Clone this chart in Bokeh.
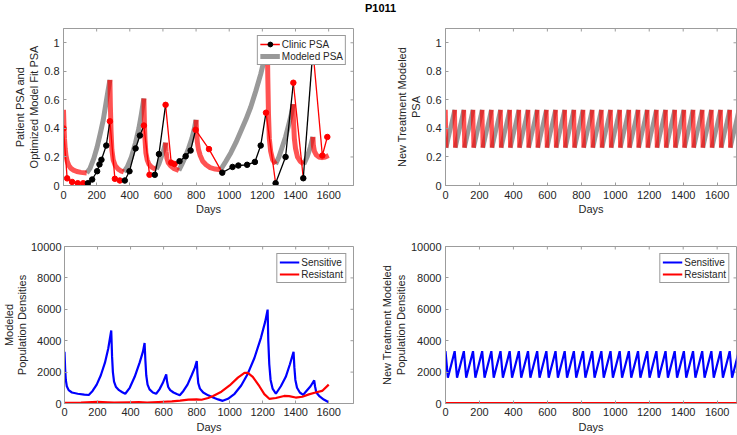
from bokeh.plotting import figure
from bokeh.models import Range1d, FixedTicker, Legend, LegendItem, Div
from bokeh.layouts import row, column
from bokeh.embed import file_html
from bokeh.resources import INLINE

# ---------------- data ----------------
TITLE = "P1011"

# Clinic PSA (top-left); 1 = on treatment (red), 0 = off treatment (black)
clinic_day = [0, 22, 52, 86, 119, 147, 173, 203, 217, 229, 258, 280, 310, 340, 370, 398, 435, 461,
              485, 519, 551, 576, 616, 650, 670, 700, 737, 767, 797, 878, 958, 1020, 1055, 1108,
              1155, 1190, 1222, 1280, 1340, 1387, 1447, 1505, 1562, 1592]
clinic_psa = [0.40, 0.05, 0.025, 0.016, 0.016, 0.016, 0.042, 0.10, 0.148, 0.18, 0.28, 0.45, 0.047,
              0.035, 0.035, 0.10, 0.26, 0.35, 0.42, 0.075, 0.075, 0.22, 0.565, 0.16, 0.15, 0.17,
              0.205, 0.245, 0.39, 0.255, 0.09, 0.13, 0.14, 0.145, 0.165, 0.28, 0.51, 0.016, 0.20,
              0.72, 0.051, 0.95, 0.21, 0.34]
clinic_on = [1, 1, 1, 1, 1, 0, 0, 0, 0, 0, 0, 1, 1, 1, 0, 0, 0, 0, 1, 1, 0, 0, 1, 1, 1, 0, 0, 0,
             1, 1, 0, 0, 0, 0, 0, 0, 1, 0, 0, 1, 0, 1, 1, 1]

# Modeled PSA fit (top-left)
model_day = [0, 3, 6, 10, 15, 22, 32, 45, 60, 80, 105, 140,
             160, 183, 203, 223, 240, 254, 268, 280,
             283, 287, 292, 300, 312, 330, 345, 364,
             385, 410, 435, 455, 470, 485,
             488, 492, 497, 505, 515, 530, 545, 560,
             575, 590, 605, 616,
             619, 624, 632, 645, 665, 696,
             715, 735, 755, 775, 790, 800,
             803, 808, 815, 825, 840, 860, 885, 915, 948,
             980, 1010, 1040, 1070, 1100, 1130, 1160, 1190, 1215, 1230,
             1233, 1237, 1242, 1250, 1262, 1280,
             1300, 1320, 1340, 1360, 1375, 1385,
             1388, 1393, 1400, 1412, 1428, 1450,
             1470, 1490, 1505,
             1508, 1514, 1525, 1540, 1560, 1580, 1600]
model_psa = [0.53, 0.42, 0.33, 0.26, 0.21, 0.17, 0.14, 0.12, 0.108, 0.098, 0.092, 0.088,
             0.12, 0.19, 0.27, 0.37, 0.46, 0.56, 0.66, 0.74,
             0.55, 0.38, 0.25, 0.18, 0.14, 0.115, 0.103, 0.095,
             0.13, 0.2, 0.3, 0.4, 0.5, 0.61,
             0.45, 0.32, 0.23, 0.18, 0.15, 0.13, 0.12, 0.115,
             0.15, 0.2, 0.25, 0.30,
             0.24, 0.19, 0.16, 0.14, 0.12, 0.105,
             0.15, 0.2, 0.26, 0.33, 0.4, 0.46,
             0.37, 0.3, 0.25, 0.21, 0.17, 0.145, 0.125, 0.115, 0.11,
             0.17, 0.23, 0.30, 0.38, 0.46, 0.55, 0.66, 0.78, 0.9, 1.0,
             0.75, 0.5, 0.33, 0.24, 0.18, 0.15,
             0.2, 0.27, 0.34, 0.43, 0.5, 0.57,
             0.45, 0.33, 0.26, 0.2, 0.17, 0.15,
             0.2, 0.27, 0.34,
             0.28, 0.24, 0.215, 0.2, 0.195, 0.2, 0.21]
treat_start = [0, 280, 485, 616, 800, 1230, 1385, 1505]
treat_end = [140, 364, 560, 696, 948, 1280, 1450, 1600]

# Modeled population densities (bottom-left)
sens_day = [0, 4, 8, 14, 25, 45, 80, 120, 147, 170, 195, 220, 245, 265, 283,
            288, 293, 300, 312, 330, 350, 368, 395, 425, 455, 475, 485,
            490, 495, 503, 515, 535, 555, 575, 595, 616,
            621, 628, 640, 660, 680, 698, 720, 745, 770, 790, 801,
            805, 810, 820, 840, 870, 900, 930, 958, 990, 1030, 1070, 1110, 1150, 1190, 1215, 1230,
            1234, 1240, 1248, 1260, 1280, 1310, 1340, 1365, 1387,
            1392, 1398, 1408, 1425, 1445, 1465, 1490, 1512,
            1517, 1525, 1545, 1570, 1600]
sens_val = [3300, 2200, 1500, 1100, 850, 700, 620, 560, 540, 800, 1200, 1800, 2600, 3500, 4650,
            3000, 2000, 1400, 1050, 850, 720, 620, 1000, 1700, 2600, 3300, 3850,
            2700, 1800, 1200, 900, 700, 620, 900, 1300, 1850,
            1400, 1050, 850, 700, 600, 530, 800, 1200, 1800, 2300, 2700,
            1900, 1300, 950, 700, 520, 380, 260, 170, 300, 620, 1150, 1900, 2900, 4200, 5200, 5980,
            4000, 2500, 1500, 950, 620, 1100, 1700, 2500, 3300,
            2300, 1500, 1000, 700, 550, 800, 1100, 1470,
            1100, 700, 450, 250, 80]
resist_day = [0, 100, 200, 260, 300, 400, 450, 500, 600, 650, 700, 750, 800, 830, 870, 900, 950,
              1000, 1050, 1090, 1110, 1140, 1180, 1210, 1240, 1280, 1330, 1360, 1400, 1440, 1480,
              1520, 1560, 1600]
resist_val = [40, 60, 100, 70, 50, 80, 90, 60, 110, 130, 180, 250, 260, 240, 350, 480, 750,
              1150, 1650, 1950, 1950, 1700, 1100, 600, 300, 350, 480, 470, 380, 430, 580,
              700, 800, 1200]

# New treatment (right column): cycle peaks / ends of the fast drop
new_peak_days = [0, 54, 108, 162, 216, 270, 324, 378, 432, 486, 540, 594, 648, 702, 756, 810, 864,
                 918, 972, 1026, 1080, 1134, 1188, 1242, 1296, 1350, 1404, 1458, 1512, 1566, 1620,
                 1674, 1728, 1782]
new_psa_drop_end = [4, 58, 112, 166, 220, 274, 328, 382, 436, 490, 544, 598, 652, 706, 760, 814,
                    868, 922, 976, 1030, 1084, 1138, 1192, 1246, 1300, 1354, 1408, 1462, 1516, 1570,
                    1624, 1678, 1732, 1786]
new_sens_trough_days = [14, 68, 122, 176, 230, 284, 338, 392, 446, 500, 554, 608, 662, 716, 770,
                        824, 878, 932, 986, 1040, 1094, 1148, 1202, 1256, 1310, 1364, 1418, 1472,
                        1526, 1580, 1634, 1688, 1742, 1796]
NEW_PSA_HIGH = 0.53
NEW_PSA_LOW = 0.265
NEW_SENS_HIGH = 3330
NEW_SENS_LOW = 1640
new_resist_day = [0, 1800]
new_resist_val = [25, 25]

x_ticks = [0, 200, 400, 600, 800, 1000, 1200, 1400, 1600]
psa_ticks = [0, 0.2, 0.4, 0.6, 0.8, 1]
psa_tick_labels = {0: "0", 0.2: "0.2", 0.4: "0.4", 0.6: "0.6", 0.8: "0.8", 1: "1"}
pop_ticks = [0, 2000, 4000, 6000, 8000, 10000]

# ---------------- style / layout ----------------
FONT = "Liberation Sans"
AXC = "#9c9c9c"
TXT = "#262626"
GRAY = "#999999"
HD = 12                      # title strip height
W1, W2 = 360, 377
H1, H2 = 232 - HD, 203
TL_FRAME = (63, 353, 28, 185)   # left, right, top, bottom (page px)
TR_FRAME = (445, 736, 28, 185)
BL_FRAME = (63, 353, 246, 403)
BR_FRAME = (445, 736, 246, 403)
X_LEFT_MAX = 1750
X_RIGHT_MAX = 1714
TICK_LEN = 3


def style_axis(ax, ticks, overrides=None):
    ax.ticker = FixedTicker(ticks=ticks)
    ax.major_tick_in = TICK_LEN
    ax.major_tick_out = 0
    ax.minor_tick_line_color = None
    ax.axis_line_color = AXC
    ax.major_tick_line_color = AXC
    ax.major_label_text_font = FONT
    ax.major_label_text_font_size = "11px"
    ax.major_label_text_color = TXT
    ax.axis_label_text_font = FONT
    ax.axis_label_text_font_size = "11px"
    ax.axis_label_text_font_style = "normal"
    ax.axis_label_text_color = TXT
    if overrides:
        ax.major_label_overrides = overrides


def make_fig(w, h, frame, canvas_left, canvas_top, xmax, ymax, yticks, yover, ylabel,
             lab_so, axlab_so, ylab_so=4, yaxlab_so=1, ylab_lh=1.2):
    l, r, t, b = frame
    p = figure(width=w, height=h, x_range=Range1d(0, xmax), y_range=Range1d(0, ymax),
               output_backend="svg", toolbar_location=None,
               min_border_left=l - canvas_left, min_border_right=canvas_left + w - r,
               min_border_top=t - canvas_top, min_border_bottom=canvas_top + h - b,
               x_axis_label="Days", y_axis_label=ylabel)
    p.grid.visible = False
    p.outline_line_color = AXC
    p.outline_line_width = 1
    style_axis(p.xaxis[0], x_ticks)
    style_axis(p.yaxis[0], yticks, yover)
    p.xaxis[0].major_label_standoff = lab_so
    p.xaxis[0].axis_label_standoff = axlab_so
    p.yaxis[0].major_label_standoff = ylab_so
    p.yaxis[0].axis_label_standoff = yaxlab_so
    p.yaxis[0].axis_label_text_line_height = ylab_lh
    # mirrored inward ticks on the top and right box edges
    dx = TICK_LEN / (r - l) * xmax
    dy = TICK_LEN / (b - t) * ymax
    p.segment(x0=x_ticks, y0=[ymax] * len(x_ticks), x1=x_ticks, y1=[ymax - dy] * len(x_ticks),
              line_color=AXC, line_width=1)
    p.segment(x0=[xmax] * len(yticks), y0=yticks, x1=[xmax - dx] * len(yticks), y1=yticks,
              line_color=AXC, line_width=1)
    return p


def add_legend(p, items):
    lg = Legend(items=items, location="top_right", margin=7, padding=2, spacing=0,
                label_text_font=FONT, label_text_font_size="10px", label_text_color=TXT,
                glyph_width=20, glyph_height=12, label_height=12, label_standoff=2,
                border_line_color="#333333", border_line_width=0.7,
                background_fill_color="white", background_fill_alpha=1)
    p.add_layout(lg)


def split_by_flag(xs, ys, flags):
    on_x, on_y, off_x, off_y = [], [], [], []
    cur, cx, cy = None, [], []
    for i in range(len(xs) - 1):
        f = flags[i]
        if f != cur:
            if cur is not None:
                (on_x if cur else off_x).append(cx)
                (on_y if cur else off_y).append(cy)
            cur, cx, cy = f, [xs[i]], [ys[i]]
        cx.append(xs[i + 1])
        cy.append(ys[i + 1])
    if cur is not None:
        (on_x if cur else off_x).append(cx)
        (on_y if cur else off_y).append(cy)
    return on_x, on_y, off_x, off_y


# ---------------- title strip ----------------
title_div = Div(
    text=('<div style="margin-left:365px;font-family:\'Liberation Sans\';font-size:11px;'
          'font-weight:bold;line-height:12px;color:#000;white-space:nowrap">' + TITLE + '</div>'),
    width=W1 + W2, height=HD, margin=0)

# ---------------- top-left ----------------
p1 = make_fig(W1, H1, TL_FRAME, 0, HD, X_LEFT_MAX, 1.1, psa_ticks, psa_tick_labels,
              "Patient PSA and\nOptimized Model Fit PSA", 5, 1)

seg_on = []
for i in range(len(model_day) - 1):
    mid = 0.5 * (model_day[i] + model_day[i + 1])
    seg_on.append(any(s <= mid <= e for s, e in zip(treat_start, treat_end)))
m_on_x, m_on_y, m_off_x, m_off_y = split_by_flag(model_day, model_psa, seg_on)
r_model_gray = p1.multi_line(m_off_x, m_off_y, line_color=GRAY, line_width=5, line_join="round")
p1.multi_line(m_on_x, m_on_y, line_color="red", line_alpha=0.68, line_width=5, line_join="round")

c_on_x, c_on_y, c_off_x, c_off_y = split_by_flag(clinic_day, clinic_psa, clinic_on)
r_clin_red = p1.multi_line(c_on_x, c_on_y, line_color="red", line_width=1.3)
p1.multi_line(c_off_x, c_off_y, line_color="black", line_width=1.3)
p1.scatter([d for d, f in zip(clinic_day, clinic_on) if f],
           [v for v, f in zip(clinic_psa, clinic_on) if f],
           size=5.5, color="red")
r_clin_black = p1.scatter([d for d, f in zip(clinic_day, clinic_on) if not f],
                          [v for v, f in zip(clinic_psa, clinic_on) if not f],
                          size=5.5, color="black")
add_legend(p1, [LegendItem(label="Clinic PSA", renderers=[r_clin_red, r_clin_black]),
                LegendItem(label="Modeled PSA", renderers=[r_model_gray])])

# ---------------- top-right ----------------
p2 = make_fig(W2, H1, TR_FRAME, W1, HD, X_RIGHT_MAX, 1.1, psa_ticks, psa_tick_labels,
              "New Treatment Modeled\nPSA", 5, 1)
drop_x, drop_y, rise_x, rise_y = [], [], [], []
for k in range(len(new_peak_days) - 1):
    drop_x.append([new_peak_days[k], new_psa_drop_end[k]])
    drop_y.append([NEW_PSA_HIGH, NEW_PSA_LOW])
    rise_x.append([new_psa_drop_end[k], new_peak_days[k + 1]])
    rise_y.append([NEW_PSA_LOW, NEW_PSA_HIGH])
p2.multi_line(rise_x, rise_y, line_color=GRAY, line_width=4.5)
p2.multi_line(drop_x, drop_y, line_color="red", line_alpha=0.68, line_width=4.5)

# ---------------- bottom-left ----------------
p3 = make_fig(W1, H2, BL_FRAME, 0, HD + H1, X_LEFT_MAX, 10000, pop_ticks, None,
              "Modeled\nPopulation Densities", 4, 2, ylab_so=3, yaxlab_so=0, ylab_lh=1.05)
r_s = p3.line(sens_day, sens_val, line_color="blue", line_width=2.2)
r_r = p3.line(resist_day, resist_val, line_color="red", line_width=2.2)
add_legend(p3, [LegendItem(label="Sensitive", renderers=[r_s]),
                LegendItem(label="Resistant", renderers=[r_r])])

# ---------------- bottom-right ----------------
p4 = make_fig(W2, H2, BR_FRAME, W1, HD + H1, X_RIGHT_MAX, 10000, pop_ticks, None,
              "New Treatment Modeled\nPopulation Densities", 4, 2)
zx, zy = [], []
for k in range(len(new_peak_days)):
    zx += [new_peak_days[k], new_sens_trough_days[k]]
    zy += [NEW_SENS_HIGH, NEW_SENS_LOW]
r_s2 = p4.line(zx, zy, line_color="blue", line_width=2.2)
r_r2 = p4.line(new_resist_day, new_resist_val, line_color="red", line_width=2.2)
add_legend(p4, [LegendItem(label="Sensitive", renderers=[r_s2]),
                LegendItem(label="Resistant", renderers=[r_r2])])

layout = column(title_div, row(p1, p2), row(p3, p4))
open("out.html", "w").write(file_html(layout, INLINE))
